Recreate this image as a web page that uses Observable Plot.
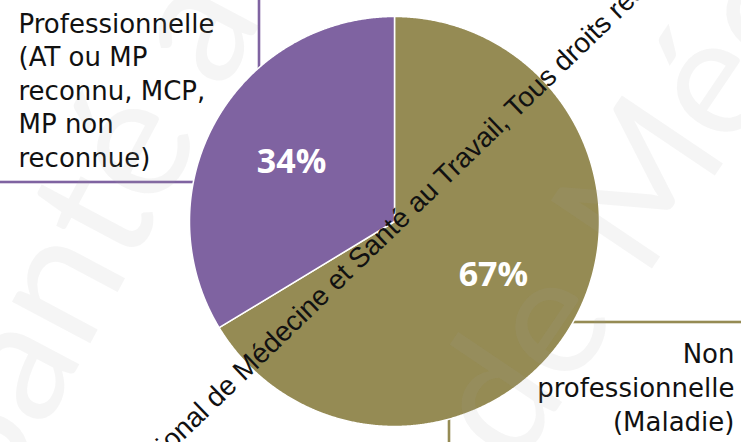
<!DOCTYPE html>
<html><head><meta charset="utf-8">
<script src="https://cdn.jsdelivr.net/npm/d3@7"></script>
<script src="https://cdn.jsdelivr.net/npm/@observablehq/plot@0.6"></script>
<style>html,body{margin:0;padding:0;background:#fff;overflow:hidden} #chart svg{display:block;overflow:hidden}</style>
</head><body><div id="chart"></div>
<script>
// ---- data ----
const categories = ["Non professionnelle", "Professionnelle"];
const values = [67, 34];
const valueLabels = ["67%", "34%"];
const categoryLabels = [
  "Non\nprofessionnelle\n(Maladie)",
  "Professionnelle\n(AT ou MP\nreconnu, MCP,\nMP non\nreconnue)"
];
const colors = ["#958B54", "#7F63A1"];
const watermark = "Institut National de Médecine et Santé au Travail, Tous droits réservés";
const faintWords = ["Santé au", "de Médecine"];

// ---- layout ----
const W = 741, H = 442, CX = 394, CY = 221, R = 205;
const ux = px => (px - CX) / R;
const uy = py => (CY - py) / R;

const arcs = d3.pie().sort(null)(values);
const slices = arcs.flatMap((a, i) => {
  const n = Math.ceil((a.endAngle - a.startAngle) / 0.005);
  const pts = [{cat: categories[i], x: 0, y: 0}];
  for (let k = 0; k <= n; k++) {
    const t = a.startAngle + (a.endAngle - a.startAngle) * k / n;
    pts.push({cat: categories[i], x: Math.sin(t), y: Math.cos(t)});
  }
  pts.push({cat: categories[i], x: 0, y: 0});
  return pts;
});
const centroids = arcs.map((a, i) => {
  const m = (a.startAngle + a.endAngle) / 2;
  return {label: valueLabels[i], x: 0.565 * Math.sin(m), y: 0.565 * Math.cos(m)};
});

const boxes = [
  {cat: categories[1], x1: ux(-10), x2: ux(259), y1: uy(182), y2: uy(-10)},
  {cat: categories[0], x1: ux(449), x2: ux(W + 10), y1: uy(H + 10), y2: uy(322)}
];
const labelPos = [
  {text: categoryLabels[0], x: ux(734), y: uy(338.5)},
  {text: categoryLabels[1], x: ux(18), y: uy(8.5)}
];

const chart = Plot.plot({
  width: W, height: H, margin: 0,
  x: {domain: [ux(0), ux(W)], axis: null},
  y: {domain: [uy(H), uy(0)], axis: null},
  color: {domain: categories, range: colors},
  style: {background: "white"},
  marks: [
    Plot.rect(boxes, {x1: "x1", x2: "x2", y1: "y1", y2: "y2", fill: "white", stroke: "cat", strokeWidth: 2.6}),
    Plot.text([labelPos[1]], {x: "x", y: "y", text: "text", textAnchor: "start", lineAnchor: "top", lineHeight: 1.29, fontSize: 26, fontFamily: "DejaVu Sans", fill: "#111"}),
    Plot.text([labelPos[0]], {x: "x", y: "y", text: "text", textAnchor: "end", lineAnchor: "top", lineHeight: 1.3, fontSize: 26, fontFamily: "DejaVu Sans", fill: "#111"}),
    Plot.line(slices, {x: "x", y: "y", z: "cat", fill: "cat", stroke: "white", strokeWidth: 1.5, strokeLinejoin: "round"}),
    Plot.text([{t: faintWords[0], x: ux(105), y: uy(195)}], {x: "x", y: "y", text: "t", rotate: -62, fontSize: 175, fontFamily: "Lato", fill: "#a8a8a8", fillOpacity: 0.11, textAnchor: "middle"}),
    Plot.text([{t: faintWords[1], x: ux(470), y: uy(440)}], {x: "x", y: "y", text: "t", rotate: -56, fontSize: 170, fontFamily: "Lato", fill: "#a8a8a8", fillOpacity: 0.11, textAnchor: "start"}),
    Plot.text(centroids, {x: "x", y: "y", text: "label", dx: -2, dy: -3, fontSize: 34, fontWeight: "bold", fontFamily: "Open Sans", fill: "white"}),
    Plot.text([{t: watermark, x: ux(377), y: uy(240)}], {x: "x", y: "y", text: "t", rotate: -44, fontSize: 28, fontFamily: "Liberation Sans", fill: "#111", textAnchor: "middle"})
  ]
});
document.getElementById("chart").append(chart);
</script>
</body></html>
